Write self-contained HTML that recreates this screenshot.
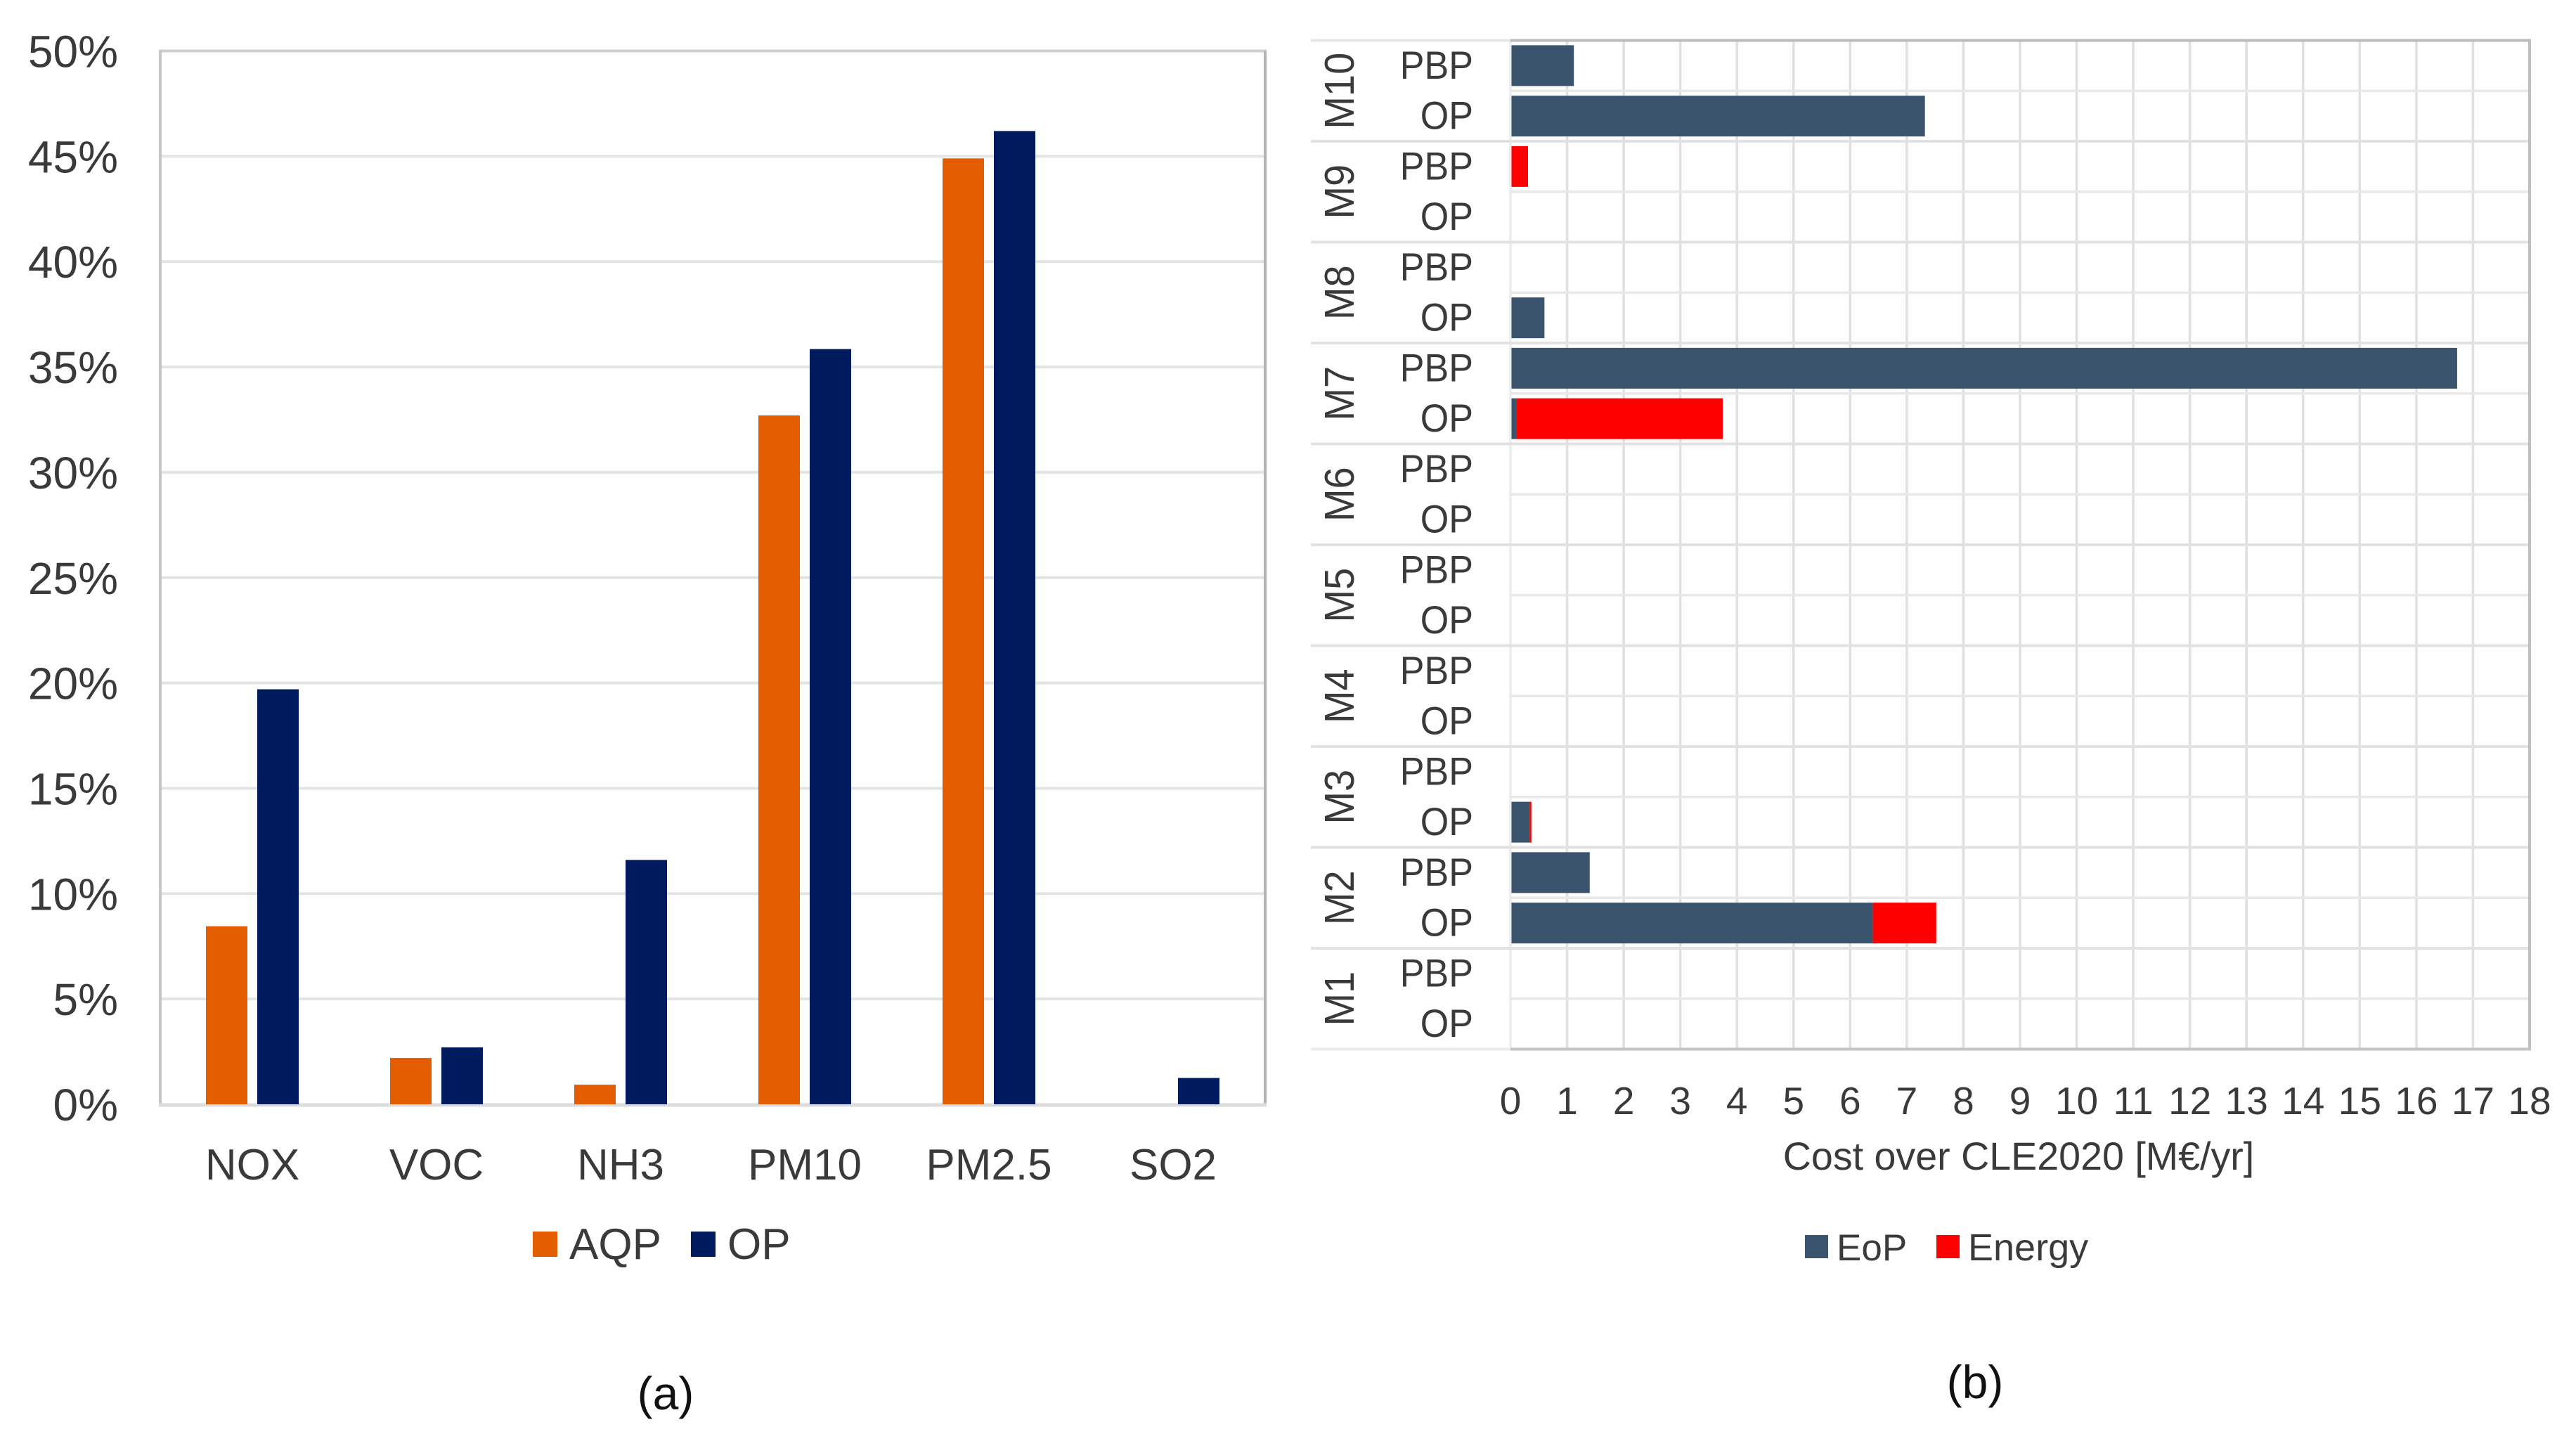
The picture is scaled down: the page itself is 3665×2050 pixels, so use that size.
<!DOCTYPE html>
<html lang="en">
<head>
<meta charset="utf-8">
<title>Emission reductions and cost over CLE2020</title>
<style>
html,body{margin:0;padding:0;background:#fff;}
body{width:3665px;height:2050px;overflow:hidden;}
svg{display:block;}
text{font-family:"Liberation Sans",sans-serif;fill:#3a3a3a;}
</style>
</head>
<body>
<svg id="figure" xmlns="http://www.w3.org/2000/svg" width="3665" height="2050" viewBox="0 0 3665 2050">
  <rect x="0" y="0" width="3665" height="2050" fill="#fefefe"/>
  <g id="chart-a"></g>
  <g id="chart-b"></g>

  <g>
    <rect x="758" y="1752" width="35" height="36" fill="#e35d00"/>
    <text x="810" y="1791" font-size="62">AQP</text>
    <rect x="983" y="1752" width="35" height="36" fill="#001a5e"/>
    <text x="1035" y="1791" font-size="62">OP</text>
  </g>
  <g>
    <rect x="2568" y="1757" width="33" height="33" fill="#3b546d"/>
    <text x="2613" y="1793" font-size="53">EoP</text>
    <rect x="2755" y="1757" width="33" height="33" fill="#ff0000"/>
    <text x="2800" y="1793" font-size="54">Energy</text>
  </g>
  <text x="2872" y="1664" font-size="55.6" text-anchor="middle">Cost over CLE2020 [M€/yr]</text>
  <text x="947" y="2005" font-size="66" text-anchor="middle" style="fill:#111">(a)</text>
  <text x="2810" y="1989" font-size="66" text-anchor="middle" style="fill:#111">(b)</text>
</svg>
<script>
// Panel (a) data
const pollutants = ['NOX', 'VOC', 'NH3', 'PM10', 'PM2.5', 'SO2'];
const aqpValues = [8.45, 2.2, 0.93, 32.7, 44.9, 0];
const opValues = [19.7, 2.7, 11.6, 35.85, 46.2, 1.25];
const percentTicks = [0, 5, 10, 15, 20, 25, 30, 35, 40, 45, 50];

// Panel (b) data (rows run top to bottom)
const measures = ['M10', 'M9', 'M8', 'M7', 'M6', 'M5', 'M4', 'M3', 'M2', 'M1'];
const policies = ['PBP', 'OP'];
const eopCosts = [1.12, 7.32, 0, 0, 0, 0.6, 16.72, 0.1, 0, 0, 0, 0, 0, 0, 0, 0.34, 1.4, 6.4, 0, 0];
const energyCosts = [0, 0, 0.31, 0, 0, 0, 0, 3.65, 0, 0, 0, 0, 0, 0, 0, 0.03, 0, 1.12, 0, 0];
const costTicks = [0, 1, 2, 3, 4, 5, 6, 7, 8, 9, 10, 11, 12, 13, 14, 15, 16, 17, 18];

const NS = 'http://www.w3.org/2000/svg';
function make(parent, tag, attrs, txt) {
  const n = document.createElementNS(NS, tag);
  for (const k in attrs) n.setAttribute(k, attrs[k]);
  if (txt !== undefined) n.textContent = txt;
  parent.appendChild(n);
  return n;
}

/* ---------- Panel (a) ---------- */
const A = document.getElementById('chart-a');
const aLeft = 228, aRight = 1800, aTop = 72.5, aBottom = 1571, aMax = 50;
const aY = v => aBottom - (v / aMax) * (aBottom - aTop);
const aBand = (aRight - aLeft) / pollutants.length;
const aCenter = i => aLeft + aBand * (i + 0.5);
const barW = 59, barOff = 7;

percentTicks.forEach(t => {
  if (t !== 0 && t !== aMax) {
    const g = make(A, 'line', {x1: aLeft, x2: aRight, y1: aY(t), y2: aY(t), stroke: '#e4e4e4', 'stroke-width': 4});
    
    
  }
  const l = make(A, 'text', {x: 168, y: aY(t) + 23, 'font-size': 64, 'text-anchor': 'end'}, t + '%');
  
  
});

const aFrameTop = make(A, 'line', {x1: aLeft - 2, x2: aRight + 2, y1: aTop, y2: aTop, stroke: '#cfcfcf', 'stroke-width': 4});


const aFrameLeft = make(A, 'line', {x1: aLeft, x2: aLeft, y1: aTop, y2: aBottom + 2, stroke: '#c6c6c6', 'stroke-width': 4});


const aFrameRight = make(A, 'line', {x1: aRight, x2: aRight, y1: aTop, y2: aBottom + 2, stroke: '#b4b4b4', 'stroke-width': 4});


const aFrameBottom = make(A, 'line', {x1: aLeft - 2, x2: aRight + 2, y1: aBottom + 1, y2: aBottom + 1, stroke: '#dcdcdc', 'stroke-width': 5});



pollutants.forEach((p, i) => {
  const c = aCenter(i);
  if (aqpValues[i] > 0) {
    const b1 = make(A, 'rect', {x: c - barOff - barW, y: aY(aqpValues[i]), width: barW, height: aBottom - aY(aqpValues[i]), fill: '#e35d00'});
    
    
  }
  if (opValues[i] > 0) {
    const b2 = make(A, 'rect', {x: c + barOff, y: aY(opValues[i]), width: barW, height: aBottom - aY(opValues[i]), fill: '#001a5e'});
    
    
  }
  const t = make(A, 'text', {x: c, y: 1678, 'font-size': 62, 'text-anchor': 'middle'}, p);
  
  
});

/* ---------- Panel (b) ---------- */
const B = document.getElementById('chart-b');
const bLeft = 2149, bRight = 3599, bTop = 57.5, bBottom = 1492.5, bMax = 18;
const bX = v => bLeft + (v / bMax) * (bRight - bLeft);
const rowCount = measures.length * policies.length;
const rowH = (bBottom - bTop) / rowCount;
const rowY = r => bTop + r * rowH;
const bThick = 58;

costTicks.forEach(t => {
  const x = bX(t);
  if (t !== bMax) {
    const g = make(B, 'line', {x1: x, x2: x, y1: bTop, y2: bBottom, stroke: t === 0 ? '#ececec' : '#e0e0e0', 'stroke-width': 3.5});
    
    
  }
  const l = make(B, 'text', {x: x, y: 1585, 'font-size': 55, 'text-anchor': 'middle'}, t);
  
  
});

for (let r = 1; r < rowCount; r++) {
  const isGroup = r % policies.length === 0;
  const g = make(B, 'line', {x1: isGroup ? 1865 : bLeft, x2: bRight, y1: rowY(r), y2: rowY(r), stroke: isGroup ? '#e2e2e2' : '#e8e8e8', 'stroke-width': isGroup ? 4 : 3.5});
  
  
}

const bTick1 = make(B, 'line', {x1: 1865, x2: bLeft, y1: bTop, y2: bTop, stroke: '#e6e6e6', 'stroke-width': 4});


const bTick2 = make(B, 'line', {x1: 1865, x2: bLeft, y1: bBottom, y2: bBottom, stroke: '#ececec', 'stroke-width': 4});


const bFrameTop = make(B, 'line', {x1: bLeft, x2: bRight + 2, y1: bTop, y2: bTop, stroke: '#bcbcbc', 'stroke-width': 4});


const bFrameBottom = make(B, 'line', {x1: bLeft, x2: bRight + 2, y1: bBottom, y2: bBottom, stroke: '#c4c4c4', 'stroke-width': 4});


const bFrameRight = make(B, 'line', {x1: bRight, x2: bRight, y1: bTop, y2: bBottom, stroke: '#c0c0c0', 'stroke-width': 4});



for (let r = 0; r < rowCount; r++) {
  const cy = rowY(r) + rowH / 2;
  const eop = eopCosts[r], en = energyCosts[r];
  if (eop > 0) {
    const b1 = make(B, 'rect', {x: bX(0) + 1.5, y: cy - bThick / 2, width: bX(eop) - bX(0) - 1.5, height: bThick, fill: '#3b546d'});
    
    
  }
  if (en > 0) {
    const b2 = make(B, 'rect', {x: bX(eop) + (eop > 0 ? 0 : 1.5), y: cy - bThick / 2, width: bX(eop + en) - bX(eop) - (eop > 0 ? 0 : 1.5), height: bThick, fill: '#ff0000'});
    
    
  }
  const lab = make(B, 'text', {x: 0, y: 0, 'font-size': 56, 'text-anchor': 'end', transform: 'translate(2096,' + (cy + 18.5) + ') scale(0.93,1)'}, policies[r % policies.length]);
  
  
}

measures.forEach((m, i) => {
  const cy = rowY(i * policies.length) + rowH * policies.length / 2;
  const t = make(B, 'text', {x: 0, y: 0, 'font-size': 59, 'text-anchor': 'middle', transform: 'translate(1926,' + cy + ') rotate(-90) scale(0.95,1)'}, m);
  
  
});
</script>
</body>
</html>
